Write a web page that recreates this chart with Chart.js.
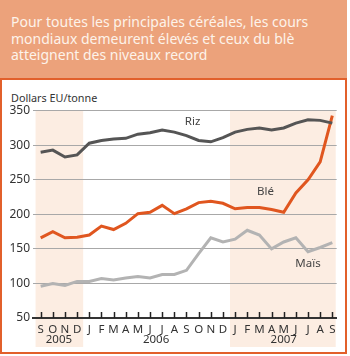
<!DOCTYPE html>
<html>
<head>
<meta charset="utf-8">
<script src="https://cdn.jsdelivr.net/npm/chart.js@4.4.1/dist/chart.umd.min.js"></script>
<style>
  body { margin: 0; background: #fff; }
  .frame { position: absolute; left: 0; top: 0; width: 347px; height: 354px; box-sizing: border-box; border: 2px solid #e2602b; }
  .titleBox { position: absolute; left: 0; top: 0; width: 347px; height: 80px; box-sizing: border-box; background: #eca27b; border-bottom: 2px solid #e2602b; color: #fdf3ea; font: 14px "Noto Sans", sans-serif; line-height: 16.6px; padding: 14px 0 0 11px; }
  .unit { position: absolute; left: 11px; top: 90px; font: 10.8px "Noto Sans", sans-serif; color: #333; }
  .chartBox { position: absolute; left: 0; top: 82px; width: 346px; height: 270px; }
</style>
</head>
<body>
<div class="frame"></div>
<div class="titleBox">Pour toutes les principales céréales, les cours<br>mondiaux demeurent élevés et ceux du blè<br>atteignent des niveaux record</div>
<div class="unit">Dollars EU/tonne</div>
<div class="chartBox"><canvas id="myChart"></canvas></div>
<script>
// Sep 2005 -> Sep 2007
let monthLabels = ["S", "O", "N", "D", "J", "F", "M", "A", "M", "J", "J", "A", "S", "O", "N", "D", "J", "F", "M", "A", "M", "J", "J", "A", "S"];
let yearLabels = ["2005", "2006", "2007"];
let yearFirst = [0, 4, 16];
let yearLast = [3, 15, 24];
let dataRiz = [290, 293, 283, 286, 303, 307, 309, 310, 316, 318, 322, 319, 314, 307, 305, 311, 319, 323, 325, 322, 325, 332, 337, 336, 332];
let dataBle = [166, 175, 166, 167, 170, 183, 178, 187, 201, 203, 213, 201, 208, 217, 219, 216, 208, 210, 210, 207, 203, 231, 250, 276, 343];
let dataMais = [96, 100, 97, 103, 103, 107, 105, 108, 110, 108, 113, 113, 119, 143, 166, 160, 164, 177, 170, 150, 160, 166, 146, 152, 159];
let seriesNames = ["Riz", "Blé", "Maïs"];
// label anchor (month index, value) for each series name
let nameAt = [[12.5, 334], [18.5, 233], [22, 128]];

const toPoints = (arr) => arr.map((v, i) => ({ x: i, y: v }));

const bandPlugin = {
  id: "bands",
  beforeDraw(chart) {
    const ctx = chart.ctx;
    const xs = chart.scales.x;
    const area = chart.chartArea;
    ctx.save();
    ctx.fillStyle = "#fcede2";
    for (let i = 0; i < yearLabels.length; i += 2) {
      let x0 = Math.max(xs.getPixelForValue(yearFirst[i] - 0.42), area.left);
      let x1 = Math.min(xs.getPixelForValue(yearLast[i] + 0.5), area.right - 1);
      ctx.fillRect(x0, area.top, x1 - x0, chart.height - area.top - 5);
    }
    ctx.restore();
  },
  afterDraw(chart) {
    const ctx = chart.ctx;
    const xs = chart.scales.x;
    const ys = chart.scales.y;
    const area = chart.chartArea;
    ctx.save();
    // month ticks above the axis
    ctx.strokeStyle = "#222";
    ctx.lineWidth = 1.5;
    for (let i = 0; i < monthLabels.length; i++) {
      let px = Math.round(xs.getPixelForValue(i)) + 0.5;
      ctx.beginPath();
      ctx.moveTo(px, area.bottom);
      ctx.lineTo(px, area.bottom - 6);
      ctx.stroke();
    }
    // years
    ctx.fillStyle = "#333";
    ctx.font = "11.5px 'Noto Sans'";
    ctx.textAlign = "center";
    ctx.textBaseline = "middle";
    for (let i = 0; i < yearLabels.length; i++) {
      let c = (yearFirst[i] + yearLast[i]) / 2;
      ctx.fillText(yearLabels[i], xs.getPixelForValue(c), area.bottom + 21.5);
    }
    // series names
    ctx.fillStyle = "#444";
    ctx.font = "11.5px 'Noto Sans'";
    for (let i = 0; i < seriesNames.length; i++) {
      ctx.fillText(seriesNames[i], xs.getPixelForValue(nameAt[i][0]), ys.getPixelForValue(nameAt[i][1]));
    }
    ctx.restore();
  },
};

const lineChart = document.getElementById("myChart").getContext("2d");
const lineChartValue = new Chart(lineChart, {
  type: "line",
  data: {
    datasets: [
      { label: "Riz", data: toPoints(dataRiz), borderColor: "#555555", borderWidth: 3, pointRadius: 0, tension: 0 },
      { label: "Blé", data: toPoints(dataBle), borderColor: "#e0561f", borderWidth: 3, pointRadius: 0, tension: 0 },
      { label: "Maïs", data: toPoints(dataMais), borderColor: "#b3b3b3", borderWidth: 3, pointRadius: 0, tension: 0 },
    ],
  },
  options: {
    responsive: true,
    maintainAspectRatio: false,
    animation: false,
    events: [],
    layout: { padding: { top: 28.7, right: 9.3, left: 0, bottom: 0 } },
    plugins: { legend: { display: false }, tooltip: { enabled: false } },
    scales: {
      x: {
        type: "linear",
        min: -0.63,
        max: 24.36,
        afterFit: (scale) => { scale.height = 34; },
        grid: { display: false, drawTicks: false },
        border: { display: true, color: "#333", width: 2 },
        ticks: {
          stepSize: 1,
          includeBounds: false,
          autoSkip: false,
          maxRotation: 0,
          padding: 5,
          color: "#333",
          font: { family: "Noto Sans", size: 11.5 },
          callback: (v) => (Number.isInteger(v) ? monthLabels[v] : ""),
        },
      },
      y: {
        min: 50,
        max: 350,
        afterFit: (scale) => { scale.width = 33; },
        grid: { color: "#a8a8a8", lineWidth: 1, drawTicks: false },
        border: { display: false },
        ticks: {
          stepSize: 50,
          padding: 3,
          color: "#333",
          font: { family: "Noto Sans", size: 12 },
        },
      },
    },
  },
  plugins: [bandPlugin],
});
</script>
</body>
</html>
